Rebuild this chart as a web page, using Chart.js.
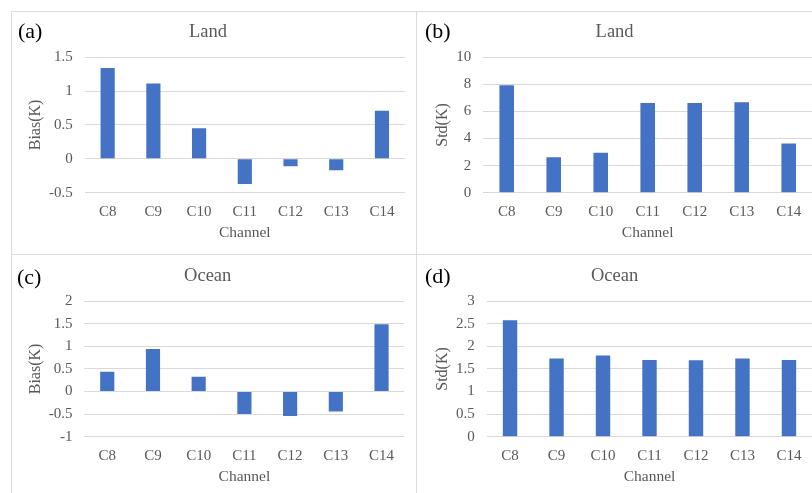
<!DOCTYPE html>
<html>
<head>
<meta charset="utf-8">
<script src="https://cdn.jsdelivr.net/npm/chart.js@4/dist/chart.umd.min.js"></script>
<style>
  html, body { margin: 0; padding: 0; background: #fff; overflow: hidden; }
  body { width: 812px; height: 493px; position: relative; }
  .frame { position: absolute; left: 11px; top: 11px; width: 900px; height: 600px;
           border-left: 1px solid #dcdcdc; border-top: 1px solid #dcdcdc; box-sizing: border-box; }
  .vline { position: absolute; left: 416px; top: 11px; width: 1px; height: 482px; background: #dcdcdc; }
  .hline { position: absolute; left: 11px; top: 254px; width: 801px; height: 1px; background: #dcdcdc; }
  .panel { position: absolute; width: 406px; height: 244px; }
  .tag { position: absolute; font-family: "Liberation Serif", "Times New Roman", serif;
         font-size: 22px; line-height: 22px; color: #000; }
</style>
</head>
<body>
<div class="frame"></div>
<div class="vline"></div>
<div class="hline"></div>

<div class="panel" style="left:11px;top:11px"><canvas id="ca"></canvas></div>
<div class="panel" style="left:417px;top:11px"><canvas id="cb"></canvas></div>
<div class="panel" style="left:11px;top:255px"><canvas id="cc"></canvas></div>
<div class="panel" style="left:417px;top:255px"><canvas id="cd"></canvas></div>

<div class="tag" style="left:18px;top:20px">(a)</div>
<div class="tag" style="left:425px;top:20px">(b)</div>
<div class="tag" style="left:17px;top:266px">(c)</div>
<div class="tag" style="left:425px;top:265px">(d)</div>

<script>
// Brightness-temperature statistics per channel
const channels  = ['C8', 'C9', 'C10', 'C11', 'C12', 'C13', 'C14'];
const landBias  = [1.34, 1.11, 0.45, -0.37, -0.11, -0.17, 0.71];
const landStd   = [7.93, 2.62, 2.94, 6.62, 6.62, 6.67, 3.63];
const oceanBias = [0.44, 0.94, 0.33, -0.50, -0.54, -0.44, 1.49];
const oceanStd  = [2.58, 1.73, 1.80, 1.70, 1.69, 1.73, 1.70];

const SERIF = '"Liberation Serif", "Times New Roman", serif';
const TEXT = '#595959';
const GRID = '#d9d9d9';
const BAR = '#4472c4';

// plain number labels: 1, 1.5, -0.5 (no padded decimals)
const plainTick = (v) => String(Number(v.toFixed(2)));

function makeChart(id, title, yTitle, values, yMin, yMax, yStep, yWidth, padRight, yTitlePad) {
  return new Chart(document.getElementById(id), {
    type: 'bar',
    data: {
      labels: channels,
      datasets: [{
        data: values,
        backgroundColor: BAR,
        borderWidth: 0,
        categoryPercentage: 1.0,
        barPercentage: 0.31
      }]
    },
    options: {
      responsive: true,
      maintainAspectRatio: false,
      animation: false,
      devicePixelRatio: 1,
      layout: { padding: { left: 0, right: padRight, top: 0, bottom: 0 } },
      plugins: {
        legend: { display: false },
        tooltip: { enabled: false },
        title: {
          display: true,
          text: title,
          color: TEXT,
          font: { family: SERIF, size: 18.5, weight: 'normal', lineHeight: 1.2 },
          padding: { top: 10, bottom: 14 }
        }
      },
      scales: {
        x: {
          grid: { display: false, drawTicks: false },
          border: { display: false },
          ticks: { color: TEXT, font: { family: SERIF, size: 15 }, padding: 10, maxRotation: 0, autoSkip: false },
          title: { display: true, text: 'Channel', color: TEXT,
                   font: { family: SERIF, size: 15.5, lineHeight: 1.2 }, padding: { top: 0, bottom: 13 } },
          afterFit: (s) => { s.height = 62.3; }
        },
        y: {
          min: yMin, max: yMax,
          grid: { color: GRID, lineWidth: 1, drawTicks: false },
          border: { display: false },
          ticks: { stepSize: yStep, color: TEXT, font: { family: SERIF, size: 15 }, padding: 12, callback: plainTick },
          title: { display: true, text: yTitle, color: TEXT,
                   font: { family: SERIF, size: 16, lineHeight: 1.2 }, padding: { top: yTitlePad, bottom: 0 } },
          afterFit: (s) => { s.width = yWidth; }
        }
      }
    }
  });
}

makeChart('ca', 'Land',  'Bias(K)', landBias,  -0.5, 1.5, 0.5, 73.8, 12.2, 15);
makeChart('cb', 'Land',  'Std(K)',  landStd,    0,   10,  2,   66.2, 10.8, 16.5);
makeChart('cc', 'Ocean', 'Bias(K)', oceanBias, -1,   2,   0.5, 73.4, 12.6, 15);
makeChart('cd', 'Ocean', 'Std(K)',  oceanStd,   0,   3,   0.5, 69.8, 10.8, 16.5);
</script>
</body>
</html>
